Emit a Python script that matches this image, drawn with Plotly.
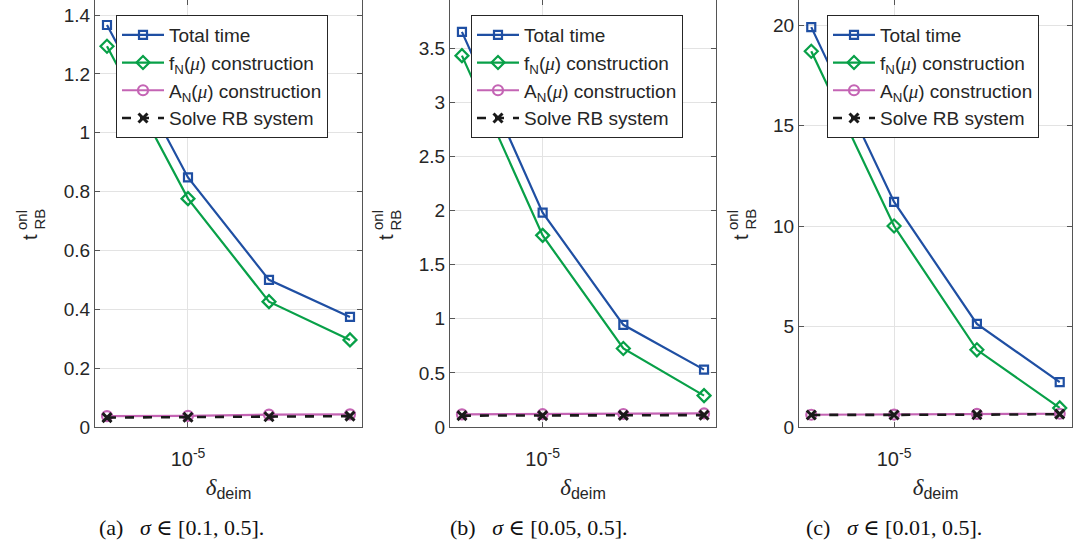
import plotly.graph_objects as go

W, H = 1074, 550

delta = [5e-6, 1e-5, 2e-5, 4e-5]

total_a = [1.366, 0.848, 0.500, 0.374]
fN_a = [1.294, 0.776, 0.426, 0.296]
AN_a = [0.037, 0.038, 0.042, 0.043]
solve_a = [0.032, 0.033, 0.035, 0.037]

total_b = [3.65, 1.98, 0.944, 0.53]
fN_b = [3.43, 1.77, 0.725, 0.29]
AN_b = [0.117, 0.118, 0.120, 0.125]
solve_b = [0.105, 0.105, 0.107, 0.110]

total_c = [19.9, 11.2, 5.13, 2.23]
fN_c = [18.7, 10.0, 3.84, 0.95]
AN_c = [0.61, 0.62, 0.65, 0.66]
solve_c = [0.60, 0.60, 0.61, 0.64]

MU = '<span style="font-family:Liberation Serif"><i>μ</i></span>'
series_names = ["Total time",
                "f<sub>N</sub>(" + MU + ") construction",
                "A<sub>N</sub>(" + MU + ") construction",
                "Solve RB system"]
SP = "&nbsp;"
captions = ["(a)" + SP * 3 + "<i>σ</i>" + SP + "∈" + SP + "[0.1," + SP + "0.5].",
            "(b)" + SP * 3 + "<i>σ</i>" + SP + "∈" + SP + "[0.05," + SP + "0.5].",
            "(c)" + SP * 3 + "<i>σ</i>" + SP + "∈" + SP + "[0.01," + SP + "0.5]."]
yticks = [[0, 0.2, 0.4, 0.6, 0.8, 1, 1.2, 1.4],
          [0, 0.5, 1, 1.5, 2, 2.5, 3, 3.5],
          [0, 5, 10, 15, 20]]
yticktext = [["0", "0.2", "0.4", "0.6", "0.8", "1", "1.2", "1.4"],
             ["0", "0.5", "1", "1.5", "2", "2.5", "3", "3.5"],
             ["0", "5", "10", "15", "20"]]
ymax = [1.451, 3.944, 21.25]
xtick_vals = [1e-5]
xtick_text = ["10<sup>-5</sup>"]

panels = [(total_a, fN_a, AN_a, solve_a),
          (total_b, fN_b, AN_b, solve_b),
          (total_c, fN_c, AN_c, solve_c)]

# layout (pixels)
x_left = [95, 450, 799]
x_right = [362, 716, 1072]
y_top, y_bot = 0, 427
leg_x = [116, 471, 827]
ylab_x = [30, 386, 741]
cap_x = [181, 538, 894]

colors = ["#1f4fa3", "#08a048", "#c464b4", "#1a1a1a"]
symbols = ["square-open", "diamond-open", "circle-open", "x-thin-open"]
msize = [8, 10, 10, 9]
dashes = ["solid", "solid", "solid", "dash"]
lwidth = [2.2, 2.2, 2.2, 2.6]

AX = "#555555"
TXT = "#262626"
FONT = "Liberation Sans, Arial, sans-serif"

fig = go.Figure()
layout = dict(width=W, height=H, margin=dict(l=0, r=0, t=0, b=0),
              paper_bgcolor="white", plot_bgcolor="white",
              font=dict(family=FONT, size=19, color=TXT),
              showlegend=True)
annotations = []

for p in range(3):
    sfx = "" if p == 0 else str(p + 1)
    xa, ya = "x" + sfx, "y" + sfx
    leg = "legend" + sfx
    for s in range(4):
        fig.add_trace(go.Scatter(
            x=delta, y=panels[p][s], xaxis=xa, yaxis=ya,
            mode="lines+markers", name=series_names[s], legend=leg,
            line=dict(color=colors[s], width=lwidth[s], dash=dashes[s]),
            marker=dict(symbol=symbols[s], size=msize[s], color=colors[s],
                        line=dict(color=colors[s], width=2.2 if s < 3 else 3)),
        ))
    layout["xaxis" + sfx] = dict(
        domain=[x_left[p] / W, x_right[p] / W], anchor=ya, type="log",
        range=[-5.3456, -4.3533], tickvals=xtick_vals, ticktext=xtick_text,
        showline=True, mirror="allticks", linecolor=AX, linewidth=1,
        ticks="inside", ticklen=5, tickcolor=AX, showgrid=True,
        gridcolor="#e3e3e3", gridwidth=1, zeroline=False,
        tickfont=dict(size=20, color=TXT), automargin=False,
        ticklabelstandoff=14,
        title=dict(text='<span style="font-family:Liberation Serif"><i>δ</i></span><sub>deim</sub>',
                   font=dict(size=23, color=TXT), standoff=9),
    )
    layout["yaxis" + sfx] = dict(
        domain=[1 - y_bot / H, 1 - y_top / H], anchor=xa,
        range=[0, ymax[p]], tickvals=yticks[p], ticktext=yticktext[p],
        showline=True, mirror="allticks", linecolor=AX, linewidth=1,
        ticks="inside", ticklen=5, tickcolor=AX, showgrid=True,
        gridcolor="#e3e3e3", gridwidth=1, zeroline=False,
        tickfont=dict(size=19, color=TXT), automargin=False,
    )
    layout[leg] = dict(x=leg_x[p] / W, y=1 - 15 / H, xanchor="left", yanchor="top",
                       bgcolor="white", bordercolor="#262626", borderwidth=1,
                       font=dict(size=19, color=TXT), itemwidth=42,
                       tracegroupgap=0)
    # y-axis label t^{onl}_{RB}
    yt = 232
    annotations.append(dict(text="t", xref="paper", yref="paper",
                            x=(ylab_x[p] + 0) / W, y=1 - yt / H, xanchor="center", yanchor="top",
                            textangle=-90, showarrow=False, font=dict(size=20, color=TXT)))
    annotations.append(dict(text="onl", xref="paper", yref="paper",
                            x=(ylab_x[p] - 9) / W, y=1 - yt / H, xanchor="center", yanchor="bottom",
                            textangle=-90, showarrow=False, font=dict(size=15, color=TXT)))
    annotations.append(dict(text="RB", xref="paper", yref="paper",
                            x=(ylab_x[p] + 9) / W, y=1 - yt / H, xanchor="center", yanchor="bottom",
                            textangle=-90, showarrow=False, font=dict(size=15, color=TXT)))
    annotations.append(dict(text=captions[p], xref="paper", yref="paper",
                            x=cap_x[p] / W, y=1 - 527 / H, xanchor="center", yanchor="middle",
                            showarrow=False,
                            font=dict(family="Liberation Serif, DejaVu Serif, serif", size=22, color="#111111")))

layout["annotations"] = annotations
fig.update_layout(**layout)
fig.write_html("out.html")
